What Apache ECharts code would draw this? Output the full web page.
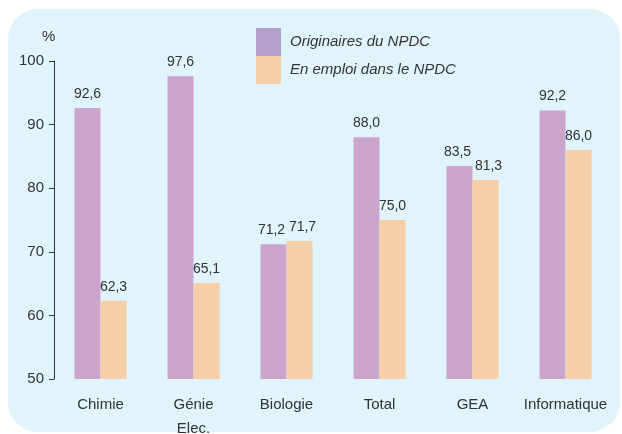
<!DOCTYPE html>
<html>
<head>
<meta charset="utf-8">
<script src="https://cdn.jsdelivr.net/npm/echarts@6/dist/echarts.min.js"></script>
<style>
html,body{margin:0;padding:0;background:#fff;}
#chart{width:622px;height:434px;}
</style>
</head>
<body>
<div id="chart"></div>
<script>
var categories = ['Chimie', 'Génie\nElec.', 'Biologie', 'Total', 'GEA', 'Informatique'];
var originaires = [92.6, 97.6, 71.2, 88.0, 83.5, 92.2];
var enEmploi = [62.3, 65.1, 71.7, 75.0, 81.3, 86.0];
var seriesNames = ['Originaires du NPDC', 'En emploi dans le NPDC'];

var FONT = '"Liberation Sans", Arial, sans-serif';

function fmt(p) {
    return p.value.toFixed(1).replace('.', ',');
}

// les étiquettes voisines de Biologie se touchent : on les écarte un peu
function toData(values, dx) {
    return values.map(function (v, i) {
        var a = values === originaires ? enEmploi[i] : originaires[i];
        if (Math.abs(v - a) < 3) {
            return { value: v, label: { offset: [dx, 0] } };
        }
        return v;
    });
}

var myChart = echarts.init(document.getElementById('chart'));
var option = {
    animation: false,
    textStyle: { fontFamily: FONT },
    graphic: [
        {
            type: 'rect', z: -10, silent: true,
            shape: { x: 8, y: 9, width: 612, height: 423, r: 30 },
            style: { fill: '#e1f3fb' }
        },
        {
            type: 'text', left: 42, top: 29,
            style: { text: '%', fontSize: 15, fill: '#333', fontFamily: FONT }
        }
    ],
    legend: {
        orient: 'vertical',
        left: 256, top: 28, padding: 0,
        itemWidth: 25, itemHeight: 28, itemGap: 0,
        icon: 'rect',
        textStyle: { fontSize: 15, fontStyle: 'italic', color: '#333', fontFamily: FONT, padding: [0, 0, 0, 4] },
        data: [
            { name: seriesNames[0], itemStyle: { color: '#b3a0cc' } },
            { name: seriesNames[1], itemStyle: { color: '#f6cfa9' } }
        ]
    },
    grid: { left: 54, right: 10, top: 61, bottom: 55, outerBoundsMode: 'none' },
    xAxis: {
        type: 'category',
        data: categories,
        axisLine: { show: false },
        axisTick: { show: false },
        axisLabel: { interval: 0, color: '#333', fontSize: 15, margin: 14, lineHeight: 24, fontFamily: FONT }
    },
    yAxis: {
        type: 'value',
        min: 50, max: 100, interval: 10,
        splitLine: { show: false },
        axisLine: { show: true, lineStyle: { color: '#333', width: 1 } },
        axisTick: { show: true, length: 5, lineStyle: { color: '#333' } },
        axisLabel: { color: '#333', fontSize: 15, margin: 10, fontFamily: FONT }
    },
    series: [
        {
            name: seriesNames[0], type: 'bar', data: toData(originaires, -2),
            barWidth: 26, barGap: '0%',
            itemStyle: { color: '#caa6cf' },
            label: { show: true, position: 'top', distance: 7, formatter: fmt, color: '#333', fontSize: 14, fontFamily: FONT }
        },
        {
            name: seriesNames[1], type: 'bar', data: toData(enEmploi, 3),
            barWidth: 26, barGap: '0%',
            itemStyle: { color: '#f6cfa9' },
            label: { show: true, position: 'top', distance: 7, formatter: fmt, color: '#333', fontSize: 14, fontFamily: FONT }
        }
    ]
};
myChart.setOption(option);
window.onresize = myChart.resize;
</script>
</body>
</html>
